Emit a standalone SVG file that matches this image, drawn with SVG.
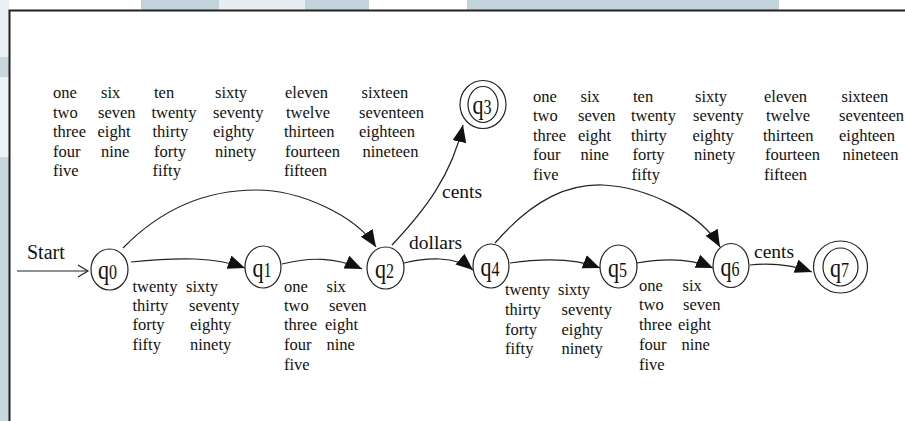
<svg xmlns="http://www.w3.org/2000/svg" width="905" height="421" viewBox="0 0 905 421">
<defs>
<marker id="ah" markerUnits="userSpaceOnUse" markerWidth="20" markerHeight="16" refX="17" refY="7" orient="auto">
<path d="M0,0 L17,7 L0,14 Z" fill="#111"/>
</marker>
<style>
.node{fill:#fff;stroke:#222;stroke-width:1.2}
.edge{fill:none;stroke:#222;stroke-width:1.2;marker-end:url(#ah)}
.w{font-family:"Liberation Serif","Times New Roman",serif;font-size:16.5px;fill:#111}
.el{font-family:"Liberation Serif","Times New Roman",serif;font-size:19.5px;fill:#111}
.nl{font-family:"Liberation Serif","Times New Roman",serif;font-size:22px;fill:#111;text-anchor:middle}
.sub{font-size:16px}
</style>
</defs>
<rect x="0" y="0" width="905" height="421" fill="#fff"/>
<rect x="0" y="0" width="9" height="421" fill="#c8d7de"/>
<rect x="0" y="0" width="9" height="57" fill="#e9eff2"/>
<rect x="0" y="77" width="9" height="80" fill="#eef3f5"/>
<rect x="141" y="0" width="228" height="10" fill="#c3d3db"/>
<rect x="219" y="0" width="86" height="10" fill="#e6eef2"/>
<rect x="467" y="0" width="312" height="10" fill="#c3d3db"/>
<path d="M9.5,421 V10.5 H905" fill="none" stroke="#222" stroke-width="2"/>

<g id="connectors">
<line x1="17" y1="271" x2="87" y2="271" stroke="#222" stroke-width="1.2"/>
<polyline points="78,265 88,271 78,277" fill="none" stroke="#222" stroke-width="1.2"/>
<path class="edge" d="M123,248 C165,205 210,190 256,190 C300,190 355,215 376,247"/>
<path class="edge" d="M131,262 C180,257 215,257 245,268"/>
<path class="edge" d="M282,264 C310,257 335,257 362,269"/>
<path class="edge" d="M392,245 C425,210 452,175 463,125"/>
<path class="edge" d="M404,263 C425,258 455,255 473,270"/>
<path class="edge" d="M495,243 C535,197 570,184 603,185 C645,187 700,212 720,247"/>
<path class="edge" d="M510,263 C545,258 575,258 600,268"/>
<path class="edge" d="M637,263 C665,258 690,258 713,268"/>
<path class="edge" d="M750,265 C770,263 790,264 812,272"/>
<text class="el" x="27" y="259" style="font-size:20px">Start</text>
<text class="el" x="442" y="198">cents</text>
<text class="el" x="409" y="249">dollars</text>
<text class="el" x="754" y="258">cents</text>
</g>

<g id="q0">
<ellipse class="node" cx="109.5" cy="269.5" rx="18.5" ry="20.5"/>
<text class="nl" transform="translate(107.5,279) scale(1,1.25)">q<tspan class="sub">0</tspan></text>
</g>
<g id="q1">
<ellipse class="node" cx="263" cy="267" rx="18" ry="21"/>
<text class="nl" transform="translate(262,277) scale(1,1.25)">q<tspan class="sub">1</tspan></text>
</g>
<g id="q2">
<ellipse class="node" cx="385.5" cy="268" rx="18.5" ry="21"/>
<text class="nl" transform="translate(384.5,278) scale(1,1.25)">q<tspan class="sub">2</tspan></text>
</g>
<g id="q3">
<ellipse class="node" cx="483" cy="104.5" rx="23" ry="24"/>
<ellipse class="node" cx="483" cy="104.5" rx="15" ry="18"/>
<text class="nl" transform="translate(482,114) scale(1,1.25)">q<tspan class="sub">3</tspan></text>
</g>
<g id="q4">
<ellipse class="node" cx="491" cy="266" rx="18" ry="22"/>
<text class="nl" transform="translate(490,276) scale(1,1.25)">q<tspan class="sub">4</tspan></text>
</g>
<g id="q5">
<ellipse class="node" cx="618.5" cy="266.5" rx="18.5" ry="21.5"/>
<text class="nl" transform="translate(617.5,276.5) scale(1,1.25)">q<tspan class="sub">5</tspan></text>
</g>
<g id="q6">
<ellipse class="node" cx="731" cy="265.5" rx="18" ry="22"/>
<text class="nl" transform="translate(730,275.5) scale(1,1.25)">q<tspan class="sub">6</tspan></text>
</g>
<g id="q7">
<ellipse class="node" cx="840.5" cy="267" rx="27" ry="26"/>
<ellipse class="node" cx="840.5" cy="267" rx="17.5" ry="19"/>
<text class="nl" transform="translate(839.5,277) scale(1,1.25)">q<tspan class="sub">7</tspan></text>
</g>

<g id="words-top-left">
<text class="w" x="53" y="98">one</text>
<text class="w" x="53" y="117.5">two</text>
<text class="w" x="53" y="137">three</text>
<text class="w" x="53" y="156.5">four</text>
<text class="w" x="53" y="176">five</text>
<text class="w" x="101" y="98">six</text>
<text class="w" x="98" y="117.5">seven</text>
<text class="w" x="97.5" y="137">eight</text>
<text class="w" x="101" y="156.5">nine</text>
<text class="w" x="154" y="98">ten</text>
<text class="w" x="151.5" y="117.5">twenty</text>
<text class="w" x="152.5" y="137">thirty</text>
<text class="w" x="154" y="156.5">forty</text>
<text class="w" x="152.5" y="176">fifty</text>
<text class="w" x="215" y="98">sixty</text>
<text class="w" x="213" y="117.5">seventy</text>
<text class="w" x="213" y="137">eighty</text>
<text class="w" x="215" y="156.5">ninety</text>
<text class="w" x="285" y="98">eleven</text>
<text class="w" x="286" y="117.5">twelve</text>
<text class="w" x="284" y="137">thirteen</text>
<text class="w" x="285" y="156.5">fourteen</text>
<text class="w" x="284" y="176">fifteen</text>
<text class="w" x="361.5" y="98">sixteen</text>
<text class="w" x="359" y="117.5">seventeen</text>
<text class="w" x="359" y="137">eighteen</text>
<text class="w" x="362.5" y="156.5">nineteen</text>
</g>

<g id="words-top-right">
<text class="w" x="533" y="101.5">one</text>
<text class="w" x="533" y="121">two</text>
<text class="w" x="533" y="140.5">three</text>
<text class="w" x="533" y="160">four</text>
<text class="w" x="533" y="179.5">five</text>
<text class="w" x="580.5" y="101.5">six</text>
<text class="w" x="578" y="121">seven</text>
<text class="w" x="578" y="140.5">eight</text>
<text class="w" x="580.5" y="160">nine</text>
<text class="w" x="633" y="101.5">ten</text>
<text class="w" x="631" y="121">twenty</text>
<text class="w" x="631" y="140.5">thirty</text>
<text class="w" x="632.5" y="160">forty</text>
<text class="w" x="631.5" y="179.5">fifty</text>
<text class="w" x="695" y="101.5">sixty</text>
<text class="w" x="693" y="121">seventy</text>
<text class="w" x="692.5" y="140.5">eighty</text>
<text class="w" x="694" y="160">ninety</text>
<text class="w" x="764" y="101.5">eleven</text>
<text class="w" x="766" y="121">twelve</text>
<text class="w" x="763" y="140.5">thirteen</text>
<text class="w" x="765" y="160">fourteen</text>
<text class="w" x="764" y="179.5">fifteen</text>
<text class="w" x="841.5" y="101.5">sixteen</text>
<text class="w" x="839" y="121">seventeen</text>
<text class="w" x="839" y="140.5">eighteen</text>
<text class="w" x="842.5" y="160">nineteen</text>
</g>

<g id="words-q0-q1">
<text class="w" x="132.5" y="291.5">twenty</text>
<text class="w" x="132.5" y="311">thirty</text>
<text class="w" x="132.5" y="330">forty</text>
<text class="w" x="132.5" y="349.5">fifty</text>
<text class="w" x="186" y="291.5">sixty</text>
<text class="w" x="189" y="311">seventy</text>
<text class="w" x="190" y="330">eighty</text>
<text class="w" x="190" y="349.5">ninety</text>
</g>
<g id="words-q1-q2">
<text class="w" x="284" y="291.5">one</text>
<text class="w" x="284" y="311">two</text>
<text class="w" x="284" y="330">three</text>
<text class="w" x="284" y="349.5">four</text>
<text class="w" x="284" y="370">five</text>
<text class="w" x="326.5" y="291.5">six</text>
<text class="w" x="329" y="311">seven</text>
<text class="w" x="325" y="330">eight</text>
<text class="w" x="326.5" y="349.5">nine</text>
</g>
<g id="words-q4-q5">
<text class="w" x="505" y="295">twenty</text>
<text class="w" x="505" y="315">thirty</text>
<text class="w" x="505" y="334.5">forty</text>
<text class="w" x="505" y="354">fifty</text>
<text class="w" x="558" y="295">sixty</text>
<text class="w" x="561.5" y="315">seventy</text>
<text class="w" x="561.5" y="334.5">eighty</text>
<text class="w" x="561.5" y="354">ninety</text>
</g>
<g id="words-q5-q6">
<text class="w" x="639" y="290.5">one</text>
<text class="w" x="639" y="310">two</text>
<text class="w" x="639" y="330">three</text>
<text class="w" x="639" y="350">four</text>
<text class="w" x="639" y="370">five</text>
<text class="w" x="682.5" y="290.5">six</text>
<text class="w" x="683" y="310">seven</text>
<text class="w" x="678" y="330">eight</text>
<text class="w" x="681.5" y="350">nine</text>
</g>
</svg>
